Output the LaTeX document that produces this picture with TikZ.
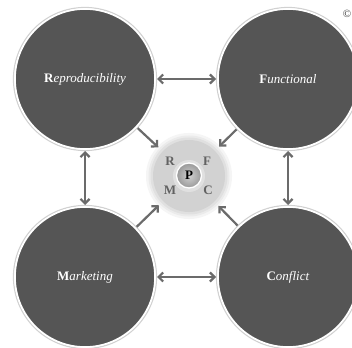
\documentclass[tikz,border=0pt]{standalone}
\usepackage{fontspec}
\setmainfont{Liberation Serif}
\usetikzlibrary{arrows.meta}
\definecolor{bigfill}{HTML}{555555}
\definecolor{arrowgray}{HTML}{6B6B6B}
\definecolor{coregray}{HTML}{D2D2D2}
\definecolor{lettergray}{HTML}{626262}
\tikzset{
  bigcircle/.style={circle, minimum size=140pt, inner sep=0pt, fill=bigfill, draw=white, line width=1.6pt, outer sep=2pt, text=white, font=\fontsize{13}{15}\selectfont},
  shadowring/.style={draw=black!18, line width=1.2pt},
  conn/.style={draw=arrowgray, line width=2.2pt, {Straight Barb[length=4.5pt,width=9pt,line width=2.2pt]}-{Straight Barb[length=4.5pt,width=9pt,line width=2.2pt]}},
  oneway/.style={draw=arrowgray, line width=2.2pt, -{Straight Barb[length=4.5pt,width=9pt,line width=2.2pt]}},
  corelabel/.style={text=lettergray, font=\fontsize{13}{15}\selectfont\bfseries, inner sep=0pt}
}
\begin{document}
\begin{tikzpicture}[x=1pt,y=-1pt]
\useasboundingbox (0,0) rectangle (352,347);
\fill[white] (0,0) rectangle (352,347);
% soft shadows of the big circles
\foreach \cx/\cy in {85/79,288/79,85/277,288/277}{
  \draw[shadowring] (\cx,\cy) circle (71.5pt);
}
\node[bigcircle] (rep) at (85,79) {\textbf{\upshape R}\textit{eproducibility}};
\node[bigcircle] (fun) at (288,79) {\textbf{\upshape F}\textit{unctional}};
\node[bigcircle] (mar) at (85,277) {\textbf{\upshape M}\textit{arketing}};
\node[bigcircle] (con) at (288,277) {\textbf{\upshape C}\textit{onflict}};
% central glow
\fill[black!4] (189,176) circle (43pt);
\fill[black!8] (189,176) circle (40.5pt);
\fill[black!12] (189,176) circle (38.5pt);
\node[circle, minimum size=72pt, inner sep=0pt, fill=coregray, outer sep=6pt] (core) at (189,176) {};
\fill[black!12] (189,176) circle (16pt);
\node[circle, minimum size=25pt, inner sep=0pt, draw=white, line width=1.3pt,
      shade, inner color=black!18, outer color=black!40,
      font=\fontsize{13}{15}\selectfont\bfseries] (p) at (189,175.5) {P};
\node[corelabel] (r) at (170,161) {R};
\node[corelabel] (f) at (207,161) {F};
\node[corelabel] (m) at (170,190) {M};
\node[corelabel] (c) at (208,190) {C};
% connectors
\draw[conn] (rep) -- (fun);
\draw[conn] (mar) -- (con);
\draw[conn] (rep) -- (mar);
\draw[conn] (fun) -- (con);
\draw[oneway] (rep) -- (core);
\draw[oneway] (fun) -- (core);
\draw[oneway] (mar) -- (core);
\draw[oneway] (con) -- (core);
\node[font=\fontsize{11}{12}\selectfont, text=black!80, inner sep=0pt] (copy) at (347,14) {©};
\end{tikzpicture}
\end{document}
